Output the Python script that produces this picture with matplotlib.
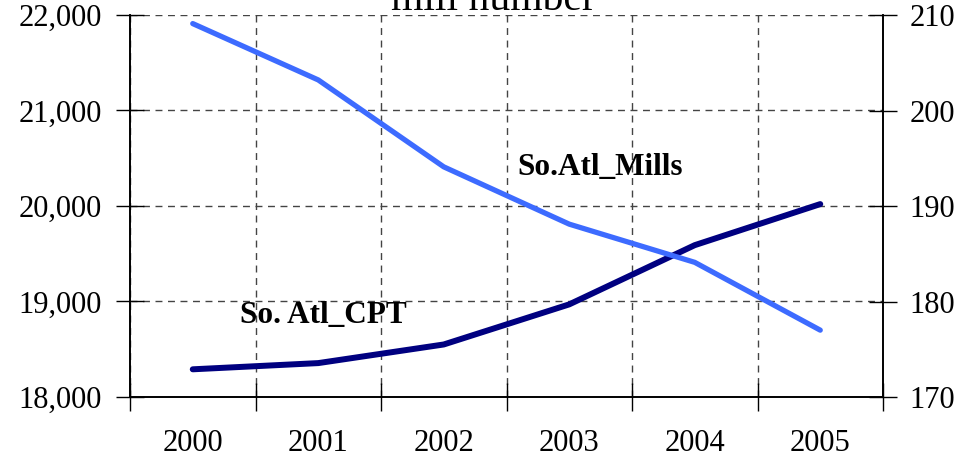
import numpy as np
import matplotlib
matplotlib.use("Agg")
import matplotlib.pyplot as plt
from matplotlib.ticker import FuncFormatter

plt.rcParams['font.family'] = ['Liberation Serif', 'DejaVu Serif']

## Data
years = ['2000', '2001', '2002', '2003', '2004', '2005']
cpt = [18290, 18355, 18550, 18970, 19590, 20020]   # left axis
mills = [209.1, 203.2, 194.1, 188.1, 184.1, 177.0]  # right axis (mill number)

x = np.arange(len(years))

fig = plt.figure(figsize=(9.71, 4.61), dpi=100)
ax = fig.add_axes([130/971, 1 - 397/461, (883 - 130)/971, (397 - 15)/461])
ax2 = ax.twinx()

ax.plot(x, cpt, color='#000080', lw=4.3, solid_capstyle='round', zorder=3)
ax2.plot(x, mills, color='#3d6bff', lw=3.8, solid_capstyle='round', zorder=3)

ax.set_xlim(-0.5, len(years) - 0.5)
ax.set_ylim(18000, 22000)
ax2.set_ylim(170, 210)

## x ticks at category boundaries, labels at centres
ax.set_xticks(np.arange(-0.5, len(years), 1.0))
ax.set_xticklabels([])
ax.set_xticks(x, minor=True)
ax.set_xticklabels(years, minor=True, fontsize=22)
ax.tick_params(axis='x', which='major', direction='inout', length=20, width=1)
ax.tick_params(axis='x', which='minor', length=0, pad=23)

ax.set_yticks([18000, 19000, 20000, 21000, 22000])
ax.yaxis.set_major_formatter(FuncFormatter(lambda v, p: f'{int(v):,}'))
ax.tick_params(axis='y', direction='inout', length=20, width=1, labelsize=22, pad=10)

ax2.set_yticks([170, 180, 190, 200, 210])
ax2.tick_params(axis='y', direction='inout', length=20, width=1, labelsize=22, pad=9)

ax.grid(True, which='major', color='#444444', ls=(0, (5, 4)), lw=1)
for a in (ax, ax2):
    a.spines['top'].set_visible(False)
    for s in ('left', 'right', 'bottom'):
        a.spines[s].set_linewidth(1.2)
ax2.patch.set_visible(False)
ax.set_zorder(0)
ax2.set_zorder(1)

ax.text(2.584, 20408, 'So.Atl_Mills', fontsize=22.5, fontweight='bold', va='center', ha='left')
ax.text(0.377, 18858, 'So. Atl_CPT', fontsize=22.5, fontweight='bold', va='center', ha='left')

fig.text(493/971, 1 - 10/461, 'mill number', fontsize=30, ha='center', va='baseline')

fig.savefig('out.png', dpi=100)
